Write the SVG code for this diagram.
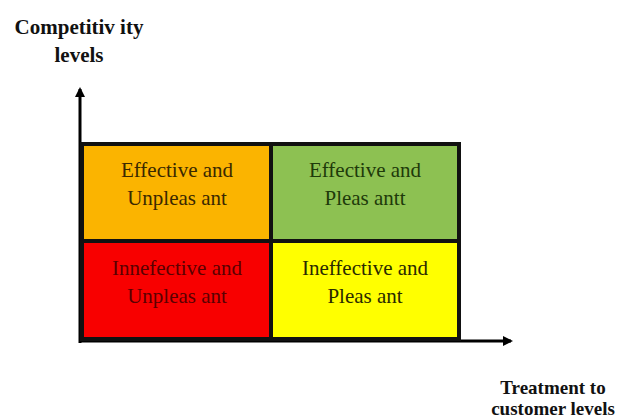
<svg xmlns="http://www.w3.org/2000/svg" width="633" height="420" viewBox="0 0 633 420">
<style>
.lbl{font-family:"Liberation Serif","Times New Roman",serif;font-size:21px;text-anchor:middle}
.ax{font-family:"Liberation Serif","Times New Roman",serif;font-size:21px;font-weight:bold;text-anchor:middle;fill:#111}
.axs{font-size:19px}
.cell{stroke:#111;stroke-width:4}
.axis{stroke:#000;stroke-width:3;fill:none}
</style>
<defs>
<marker id="arr" markerWidth="10" markerHeight="10" refX="8" refY="5" orient="auto" markerUnits="userSpaceOnUse">
<path d="M0,0 L10,5 L0,10 Z" fill="#000"/>
</marker>
</defs>
<rect width="633" height="420" fill="#fff"/>
<g id="axes">
<path class="axis" d="M80,343 L80,89" marker-end="url(#arr)"/>
<path class="axis" d="M80,341 L511,341" marker-end="url(#arr)"/>
</g>
<g id="q-effective-unpleasant">
<rect class="cell" x="82" y="144" width="189" height="97" fill="#FBB400"/>
<text class="lbl" x="177" y="177" fill="#3a2800">Effective and</text>
<text class="lbl" x="177" y="205" fill="#3a2800">Unpleas ant</text>
</g>
<g id="q-effective-pleasant">
<rect class="cell" x="271" y="144" width="188" height="97" fill="#8DC152"/>
<text class="lbl" x="365" y="177" fill="#1e3a0a">Effective and</text>
<text class="lbl" x="365" y="205" fill="#1e3a0a">Pleas antt</text>
</g>
<g id="q-ineffective-unpleasant">
<rect class="cell" x="82" y="241" width="189" height="98" fill="#F80000"/>
<text class="lbl" x="177" y="275" fill="#5a0000">Innefective and</text>
<text class="lbl" x="177" y="303" fill="#5a0000">Unpleas ant</text>
</g>
<g id="q-ineffective-pleasant">
<rect class="cell" x="271" y="241" width="188" height="98" fill="#FFFF00"/>
<text class="lbl" x="365" y="275" fill="#2a2a00">Ineffective and</text>
<text class="lbl" x="365" y="303" fill="#2a2a00">Pleas ant</text>
</g>
<g id="y-label">
<text class="ax" x="79" y="34">Competitiv ity</text>
<text class="ax" x="79" y="62">levels</text>
</g>
<g id="x-label">
<text class="ax axs" x="553" y="394">Treatment to</text>
<text class="ax axs" x="553" y="415">customer levels</text>
</g>
</svg>
